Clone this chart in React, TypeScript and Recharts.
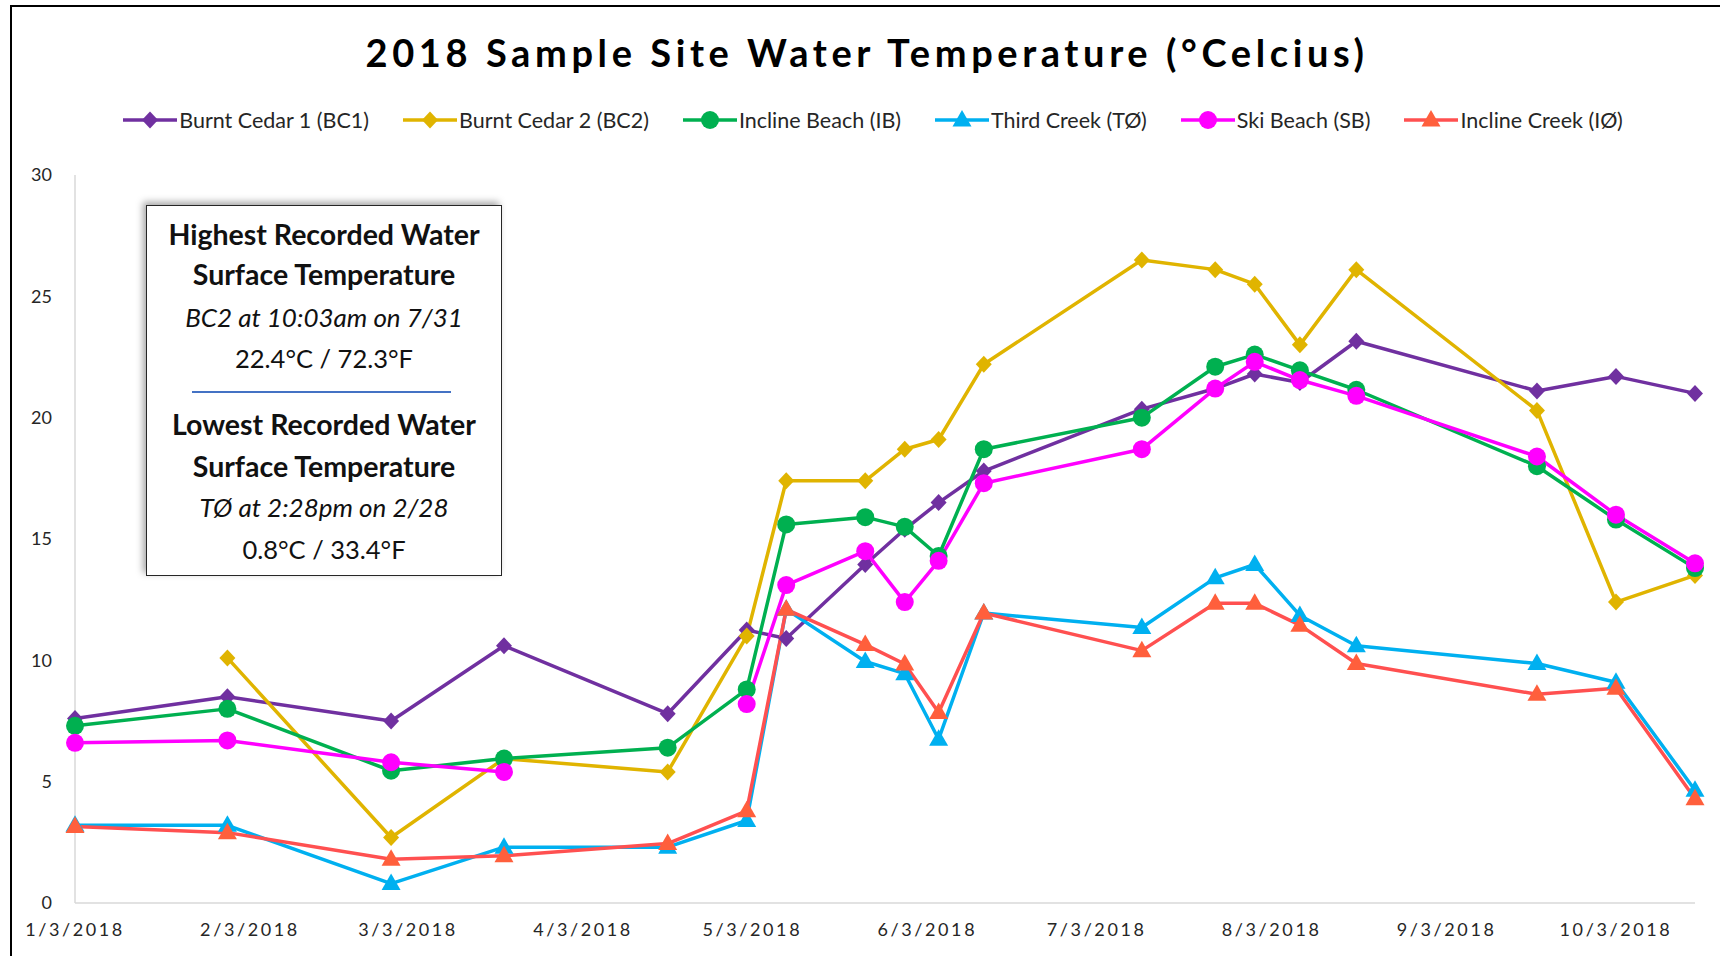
import { Line, LineChart, XAxis, YAxis } from "recharts";

// sample dates (union of all sites)
const DATES = [
  "2018-01-03", "2018-01-30", "2018-02-28", "2018-03-20", "2018-04-18",
  "2018-05-02", "2018-05-09", "2018-05-23", "2018-05-30", "2018-06-05",
  "2018-06-13", "2018-07-11", "2018-07-24", "2018-07-31", "2018-08-08",
  "2018-08-18", "2018-09-19", "2018-10-03", "2018-10-17",
];

const BC1 = [7.6, 8.5, 7.5, 10.6, 7.8, 11.25, 10.9, 13.95, 15.4, 16.5, 17.8, 20.35, 21.2, 21.8, 21.45, 23.15, 21.1, 21.7, 21.0];
const BC2 = [null, 10.1, 2.7, 5.95, 5.4, 11.0, 17.4, 17.4, 18.7, 19.1, 22.2, 26.5, 26.1, 25.5, 23.0, 26.1, 20.3, 12.4, 13.5];
const IB = [7.3, 8.0, 5.45, 5.95, 6.4, 8.8, 15.6, 15.9, 15.5, 14.3, 18.7, 20.0, 22.1, 22.6, 21.95, 21.15, 18.0, 15.8, 13.8];
const T0 = [3.2, 3.2, 0.8, 2.3, 2.3, 3.4, 12.1, 9.95, 9.45, 6.75, 11.95, 11.35, 13.4, 13.95, 11.85, 10.6, 9.87, 9.1, 4.65];
const SB = [6.6, 6.7, 5.8, 5.4, null, 8.2, 13.1, 14.5, 12.4, 14.1, 17.3, 18.7, 21.2, 22.3, 21.55, 20.9, 18.4, 16.0, 14.0];
const I0 = [3.15, 2.9, 1.8, 1.95, 2.45, 3.8, 12.1, 10.65, 9.85, 7.85, 11.95, 10.4, 12.35, 12.35, 11.45, 9.87, 8.6, 8.85, 4.3];

const X_TICKS = [
  "2018-01-03", "2018-02-03", "2018-03-03", "2018-04-03", "2018-05-03",
  "2018-06-03", "2018-07-03", "2018-08-03", "2018-09-03", "2018-10-03",
];
const Y_TICKS = [0, 5, 10, 15, 20, 25, 30];

const FONT = "Lato, 'Open Sans', sans-serif";
const AXIS = "#d9d9d9";

type Shape = "diamond" | "circle" | "triangle";

const SERIES: { key: string; name: string; color: string; fill: string; shape: Shape; values: (number | null)[] }[] = [
  { key: "bc1", name: "Burnt Cedar 1 (BC1)", color: "#7030a0", fill: "#7030a0", shape: "diamond", values: BC1 },
  { key: "bc2", name: "Burnt Cedar 2 (BC2)", color: "#e0b400", fill: "#e0b400", shape: "diamond", values: BC2 },
  { key: "ib", name: "Incline Beach (IB)", color: "#00b050", fill: "#00b050", shape: "circle", values: IB },
  { key: "t0", name: "Third Creek (TØ)", color: "#00b0f0", fill: "#00b0f0", shape: "triangle", values: T0 },
  { key: "sb", name: "Ski Beach (SB)", color: "#ff00ff", fill: "#ff00ff", shape: "circle", values: SB },
  { key: "i0", name: "Incline Creek (IØ)", color: "#ff5050", fill: "#ff5f3c", shape: "triangle", values: I0 },
];

const toTime = (s: string) => {
  const [y, m, d] = s.split("-").map(Number);
  return Date.UTC(y, m - 1, d);
};

const rows = DATES.map((d, i) => {
  const row: Record<string, number | null> = { t: toTime(d) };
  SERIES.forEach((s) => (row[s.key] = s.values[i]));
  return row;
});

const fmtDate = (v: number) => {
  const d = new Date(v);
  return `${d.getUTCMonth() + 1}/${d.getUTCDate()}/${d.getUTCFullYear()}`;
};

function Marker({ cx, cy, shape, color }: { cx: number; cy: number; shape: Shape; color: string }) {
  if (shape === "diamond")
    return <path d={`M${cx},${cy - 8.5} L${cx + 8},${cy} L${cx},${cy + 8.5} L${cx - 8},${cy} Z`} fill={color} />;
  if (shape === "circle") return <circle cx={cx} cy={cy} r={9} fill={color} />;
  return <path d={`M${cx},${cy - 10} L${cx + 9.5},${cy + 6.5} L${cx - 9.5},${cy + 6.5} Z`} fill={color} />;
}

function ChartLegend() {
  return (
    <div
      style={{
        position: "absolute",
        left: 0,
        top: 107,
        width: 1744,
        display: "flex",
        justifyContent: "center",
        gap: 32,
        fontFamily: FONT,
        fontSize: 21.5,
        color: "#262626",
      }}
    >
      {SERIES.map((s) => (
        <div key={s.key} style={{ display: "flex", alignItems: "center" }}>
          <svg width={58} height={24}>
            <line x1={2} y1={12} x2={56} y2={12} stroke={s.color} strokeWidth={3.5} />
            <Marker cx={29} cy={12} shape={s.shape} color={s.fill} />
          </svg>
          <span>{s.name}</span>
        </div>
      ))}
    </div>
  );
}

const boxLine = (top: number, text: string, style: React.CSSProperties) => (
  <div
    style={{
      position: "absolute",
      left: 0,
      width: "100%",
      top,
      textAlign: "center",
      lineHeight: "30px",
      ...style,
    }}
  >
    {text}
  </div>
);

function InfoBox() {
  const bold = { fontWeight: 700, fontSize: 28.5 };
  const ital = { fontStyle: "italic" as const, fontSize: 26 };
  const reg = { fontSize: 25.5 };
  return (
    <div
      style={{
        position: "absolute",
        left: 146,
        top: 205,
        width: 354,
        height: 369,
        background: "#fff",
        border: "1.5px solid #262626",
        boxShadow: "-3px -3px 7px rgba(0,0,0,0.35)",
        fontFamily: FONT,
        color: "#111",
      }}
    >
      {boxLine(13, "Highest Recorded Water", bold)}
      {boxLine(53, "Surface Temperature", bold)}
      {boxLine(96, "BC2 at 10:03am on 7/31", ital)}
      {boxLine(137, "22.4°C / 72.3°F", reg)}
      <div style={{ position: "absolute", left: 45, width: 259, top: 185, height: 2, background: "#4472c4" }} />
      {boxLine(203, "Lowest Recorded Water", bold)}
      {boxLine(245, "Surface Temperature", bold)}
      {boxLine(286, "TØ at 2:28pm on 2/28", ital)}
      {boxLine(328, "0.8°C / 33.4°F", reg)}
    </div>
  );
}

export default function App() {
  return (
    <div
      style={{
        position: "absolute",
        left: 0,
        top: 0,
        width: 1720,
        height: 956,
        overflow: "hidden",
        background: "#fff",
      }}
    >
      <LineChart width={1720} height={956} data={rows} margin={{ top: 175, right: 25, bottom: 0, left: 0 }}>
        <XAxis
          type="number"
          dataKey="t"
          domain={[toTime(DATES[0]), toTime(DATES[DATES.length - 1])]}
          ticks={X_TICKS.map(toTime)}
          tickFormatter={fmtDate}
          height={53}
          tickLine={false}
          tickSize={0}
          tickMargin={20}
          axisLine={{ stroke: AXIS, strokeWidth: 1.5 }}
          tick={{ fill: "#262626", fontSize: 18, fontFamily: FONT, letterSpacing: 2.6 }}
          interval={0}
        />
        <YAxis
          domain={[0, 30]}
          ticks={Y_TICKS}
          width={75}
          tickLine={false}
          tickSize={0}
          tickMargin={23}
          axisLine={{ stroke: AXIS, strokeWidth: 1.5 }}
          tick={{ fill: "#262626", fontSize: 18, fontFamily: FONT }}
          interval={0}
        />
        {SERIES.map((s) => (
          <Line
            key={s.key}
            dataKey={s.key}
            name={s.name}
            type="linear"
            stroke={s.color}
            strokeWidth={3.5}
            strokeLinejoin="round"
            isAnimationActive={false}
            dot={(p: any) =>
              p.value == null || p.cy == null ? (
                <g key={p.index} />
              ) : (
                <Marker key={p.index} cx={p.cx} cy={p.cy} shape={s.shape} color={s.fill} />
              )
            }
            activeDot={false}
          />
        ))}
      </LineChart>
      <div
        style={{
          position: "absolute",
          left: 0,
          top: 29,
          width: 1734,
          textAlign: "center",
          fontFamily: FONT,
          fontWeight: 700,
          fontSize: 38,
          letterSpacing: 4.6,
          color: "#000",
        }}
      >
        2018 Sample Site Water Temperature (°Celcius)
      </div>
      <ChartLegend />
      <InfoBox />
      <div
        style={{
          position: "absolute",
          left: 10,
          top: 5,
          width: 1800,
          height: 1000,
          border: "2px solid #000",
          pointerEvents: "none",
        }}
      />
    </div>
  );
}
